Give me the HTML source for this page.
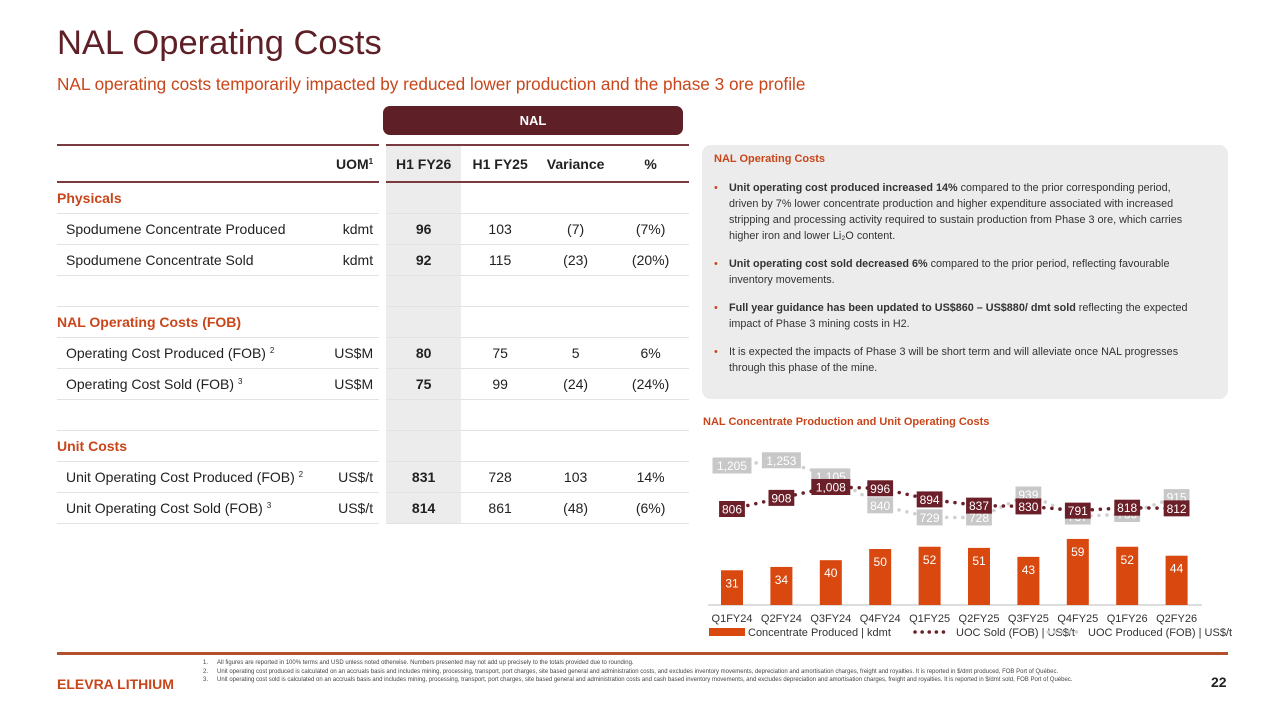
<!DOCTYPE html>
<html><head><meta charset="utf-8">
<style>
*{margin:0;padding:0;box-sizing:border-box}
body{width:1280px;height:720px;background:#fff;position:relative;overflow:hidden;font-family:"Liberation Sans",Arial,sans-serif}
.abs{position:absolute}
h1{position:absolute;left:57px;top:24px;font-size:34.5px;font-weight:normal;color:#5e1f26}
.sub{left:57px;top:74px;font-size:17.2px;color:#c8461a}
.nalbox{left:383px;top:106px;width:300px;height:29px;background:#5e1f26;border-radius:7px;color:#fff;font-weight:bold;font-size:13px;text-align:center;line-height:29px}
table{position:absolute;left:57px;top:144px;border-collapse:collapse;font-size:14px;color:#222;white-space:nowrap}
td{height:31px;border-bottom:1px solid #e2e2e2;padding:0}
tr.hd td{height:37px;border-top:2px solid #7a3a3f;border-bottom:2px solid #7a3a3f;font-weight:bold}
td.g{width:7px;border:none!important}
td.c1{width:245px;padding-left:9px}
td.c2{width:76px;text-align:right;padding-right:6px}
td.c3{width:75px;text-align:center;background:#ececec;font-weight:bold}
td.c4{width:78px;text-align:center}
td.c5{width:73px;text-align:center}
td.c6{width:77px;text-align:center}
td.sec{color:#c8461a;font-weight:bold;padding-left:0}
sup{font-size:8px;vertical-align:5px}
.panel{left:702px;top:145px;width:526px;height:254px;background:#ececec;border-radius:9px}
.panel .t{position:absolute;left:12px;top:8px;font-size:11px;font-weight:bold;color:#c8461a}
.panel ul{position:absolute;left:12px;top:35px;width:478px;list-style:none;font-size:10.8px;line-height:16px;color:#333}
.panel li{padding-left:15px;position:relative;margin-bottom:12px}
.panel li:before{content:"•";position:absolute;left:0;color:#c8461a}
.ct{left:703px;top:416px;font-size:11px;font-weight:bold;color:#c8461a}
.foot{left:57px;top:652px;width:1171px;height:3px;background:#b3502d}
.brand{left:57px;top:676px;font-size:14px;font-weight:bold;color:#c8461a}
.notes{left:203px;top:659px;width:1010px;font-size:6px;color:#444;line-height:8.5px}
.notes div{position:relative;padding-left:14px}
.notes span{position:absolute;left:0}
.pg{left:1211px;top:674px;font-size:14px;font-weight:bold;color:#222}
</style></head><body>
<h1>NAL Operating Costs</h1>
<div class="abs sub">NAL operating costs temporarily impacted by reduced lower production and the phase 3 ore profile</div>
<div class="abs nalbox">NAL</div>
<table>
<tr class="hd"><td class="c1"></td><td class="c2">UOM<sup>1</sup></td><td class="g"></td><td class="c3">H1 FY26</td><td class="c4">H1 FY25</td><td class="c5">Variance</td><td class="c6">%</td></tr>
<tr><td class="c1 sec">Physicals</td><td class="c2"></td><td class="g"></td><td class="c3"></td><td class="c4"></td><td class="c5"></td><td class="c6"></td></tr>
<tr><td class="c1">Spodumene Concentrate Produced</td><td class="c2">kdmt</td><td class="g"></td><td class="c3">96</td><td class="c4">103</td><td class="c5">(7)</td><td class="c6">(7%)</td></tr>
<tr><td class="c1">Spodumene Concentrate Sold</td><td class="c2">kdmt</td><td class="g"></td><td class="c3">92</td><td class="c4">115</td><td class="c5">(23)</td><td class="c6">(20%)</td></tr>
<tr><td class="c1"></td><td class="c2"></td><td class="g"></td><td class="c3"></td><td class="c4"></td><td class="c5"></td><td class="c6"></td></tr>
<tr><td class="c1 sec">NAL Operating Costs (FOB)</td><td class="c2"></td><td class="g"></td><td class="c3"></td><td class="c4"></td><td class="c5"></td><td class="c6"></td></tr>
<tr><td class="c1">Operating Cost Produced (FOB) <sup>2</sup></td><td class="c2">US$M</td><td class="g"></td><td class="c3">80</td><td class="c4">75</td><td class="c5">5</td><td class="c6">6%</td></tr>
<tr><td class="c1">Operating Cost Sold (FOB) <sup>3</sup></td><td class="c2">US$M</td><td class="g"></td><td class="c3">75</td><td class="c4">99</td><td class="c5">(24)</td><td class="c6">(24%)</td></tr>
<tr><td class="c1"></td><td class="c2"></td><td class="g"></td><td class="c3"></td><td class="c4"></td><td class="c5"></td><td class="c6"></td></tr>
<tr><td class="c1 sec">Unit Costs</td><td class="c2"></td><td class="g"></td><td class="c3"></td><td class="c4"></td><td class="c5"></td><td class="c6"></td></tr>
<tr><td class="c1">Unit Operating Cost Produced (FOB) <sup>2</sup></td><td class="c2">US$/t</td><td class="g"></td><td class="c3">831</td><td class="c4">728</td><td class="c5">103</td><td class="c6">14%</td></tr>
<tr><td class="c1">Unit Operating Cost Sold (FOB) <sup>3</sup></td><td class="c2">US$/t</td><td class="g"></td><td class="c3">814</td><td class="c4">861</td><td class="c5">(48)</td><td class="c6">(6%)</td></tr>
</table>

<div class="abs panel">
<div class="t">NAL Operating Costs</div>
<ul>
<li><b>Unit operating cost produced increased 14%</b> compared to the prior corresponding period, driven by 7% lower concentrate production and higher expenditure associated with increased stripping and processing activity required to sustain production from Phase 3 ore, which carries higher iron and lower Li₂O content.</li>
<li><b>Unit operating cost sold decreased 6%</b> compared to the prior period, reflecting favourable inventory movements.</li>
<li><b>Full year guidance has been updated to US$860 – US$880/ dmt sold</b> reflecting the expected impact of Phase 3 mining costs in H2.</li>
<li>It is expected the impacts of Phase 3 will be short term and will alleviate once NAL progresses through this phase of the mine.</li>
</ul></div>

<div class="abs ct">NAL Concentrate Production and Unit Operating Costs</div>
<svg class="abs" style="left:0;top:0" width="1280" height="720" id="chart"></svg>

<div class="abs foot"></div>
<div class="abs brand">ELEVRA LITHIUM</div>
<div class="abs notes">
<div><span>1.</span>All figures are reported in 100% terms and USD unless noted otherwise. Numbers presented may not add up precisely to the totals provided due to rounding.</div>
<div><span>2.</span>Unit operating cost produced is calculated on an accruals basis and includes mining, processing, transport, port charges, site based general and administration costs, and excludes inventory movements, depreciation and amortisation charges, freight and royalties. It is reported in $/dmt produced, FOB Port of Québec.</div>
<div><span>3.</span>Unit operating cost sold is calculated on an accruals basis and includes mining, processing, transport, port charges, site based general and administration costs and cash based inventory movements, and excludes depreciation and amortisation charges, freight and royalties. It is reported in $/dmt sold, FOB Port of Québec.</div>
</div>
<div class="abs pg">22</div>

<script>
const categories=["Q1FY24","Q2FY24","Q3FY24","Q4FY24","Q1FY25","Q2FY25","Q3FY25","Q4FY25","Q1FY26","Q2FY26"];
const produced=[31,34,40,50,52,51,43,59,52,44];
const uocSold=[806,908,1008,996,894,837,830,791,818,812];
const uocProduced=[1205,1253,1105,840,729,728,939,737,760,915];
const NS="http://www.w3.org/2000/svg";
const svg=document.getElementById("chart");
const x0=732,step=49.4,base=605;
const xS=i=>x0+i*step;
const yBar=v=>base-v*1.12;
const yL=v=>509-(v-806)*0.109;
function mk(t,a){const e=document.createElementNS(NS,t);for(const k in a)e.setAttribute(k,a[k]);svg.appendChild(e);return e;}
function txt(x,y,s,fill,size){const t=mk("text",{x:x,y:y,"text-anchor":"middle","font-size":size||12,fill:fill,"font-family":"Liberation Sans, Arial, sans-serif"});t.textContent=s;return t;}
const ax=mk("line",{x1:708,x2:1202,y1:base,y2:base,stroke:"#bbb","stroke-width":1});


produced.forEach((v,i)=>{
 const r=mk("rect",{x:xS(i)-11,y:yBar(v),width:22,height:v*1.12,fill:"#d9480f"});
 
 
 txt(xS(i),yBar(v)+17,v,"#fff",12);
 const l=txt(xS(i),622,categories[i],"#333",11);
 
 
});
function series(vals,color,labBg,labFg,name){
 const pts=vals.map((v,i)=>xS(i)+","+yL(v)).join(" ");
 const p=mk("polyline",{points:pts,fill:"none",stroke:color,"stroke-width":3.5,"stroke-dasharray":"0.1 8","stroke-linecap":"round"});
 
 
 vals.forEach((v,i)=>{
  const s=v.toLocaleString("en-US");const w=s.length*6.6+6;
  const r=mk("rect",{x:xS(i)-w/2,y:yL(v)-8,width:w,height:16,fill:labBg});
  
  
  txt(xS(i),yL(v)+4.5,s,labFg,12);
 });
}
series(uocProduced,"#d0d0d0","#c8c8c8","#fff","uoc-produced-line");
series(uocSold,"#6b1f28","#6b1f28","#fff","uoc-sold-line");
const lg=mk("rect",{x:709,y:628,width:36,height:8,fill:"#d9480f"});


const t1=mk("text",{x:748,y:636,"font-size":11,fill:"#333","font-family":"Liberation Sans, Arial, sans-serif"});t1.textContent="Concentrate Produced | kdmt";
mk("line",{x1:915,x2:950,y1:632,y2:632,stroke:"#6b1f28","stroke-width":3.5,"stroke-dasharray":"0.1 7","stroke-linecap":"round"});
const t2=mk("text",{x:956,y:636,"font-size":11,fill:"#333","font-family":"Liberation Sans, Arial, sans-serif"});t2.textContent="UOC Sold (FOB) | US$/t";
mk("line",{x1:1048,x2:1082,y1:632,y2:632,stroke:"#d0d0d0","stroke-width":3.5,"stroke-dasharray":"0.1 7","stroke-linecap":"round"});
const t3=mk("text",{x:1088,y:636,"font-size":11,fill:"#333","font-family":"Liberation Sans, Arial, sans-serif"});t3.textContent="UOC Produced (FOB) | US$/t";
</script>
</body></html>
